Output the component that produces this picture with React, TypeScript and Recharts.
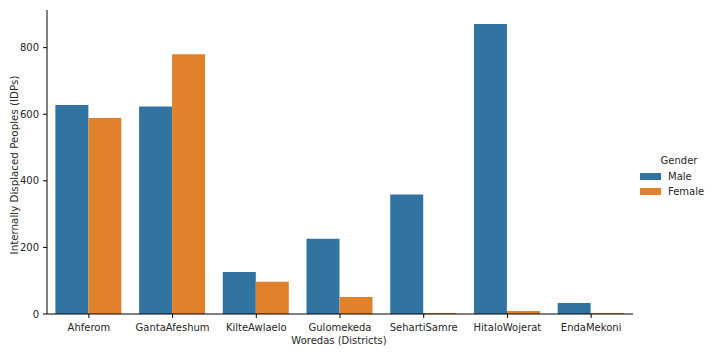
import React from 'react';
import { BarChart, Bar, XAxis, YAxis, Legend } from 'recharts';

const districts = ['Ahferom', 'GantaAfeshum', 'KilteAwlaelo', 'Gulomekeda', 'SehartiSamre', 'HitaloWojerat', 'EndaMekoni'];
const maleValues = [628, 623, 126, 226, 359, 871, 33];
const femaleValues = [589, 780, 97, 51, 3, 9, 3];
const yTicks = [0, 200, 400, 600, 800];

const data = districts.map((d, i) => ({ name: d, Male: maleValues[i], Female: femaleValues[i] }));

const FONT = '"DejaVu Sans", sans-serif';
const TEXT = '#262626';
const MALE = '#3274a1';
const FEMALE = '#e1812c';

const YLabel = (props: any) => {
  const vb = props.viewBox || {};
  const cx = 5.5;
  const cy = vb.y + vb.height / 2 + 3;
  return (
    <text x={cx} y={cy} transform={`rotate(-90 ${cx} ${cy})`} textAnchor="middle" dominantBaseline="central"
      fontFamily={FONT} fontSize={10.3} fill={TEXT}>
      Internally Displaced Peoples (IDPs)
    </text>
  );
};

const XLabel = (props: any) => {
  const vb = props.viewBox || {};
  return (
    <text x={vb.x + vb.width / 2 - 1} y={336} textAnchor="middle"
      fontFamily={FONT} fontSize={10} fill={TEXT}>
      Woredas (Districts)
    </text>
  );
};

const LegendContent = () => (
  <div style={{ fontFamily: FONT, fontSize: 10, color: TEXT, lineHeight: '14px' }}>
    <div style={{ textAlign: 'center', width: 70, marginLeft: 4, marginBottom: 1 }}>Gender</div>
    {[['Male', MALE], ['Female', FEMALE]].map(([n, c]) => (
      <div key={n} style={{ display: 'flex', alignItems: 'center', height: 15 }}>
        <span style={{ display: 'inline-block', width: 21, height: 7, background: c, marginRight: 7 }} />
        <span>{n}</span>
      </div>
    ))}
  </div>
);

export default function App() {
  return (
    <BarChart width={697} height={344} data={data} margin={{ top: 2, right: 72, left: 0, bottom: 8 }}
      barCategoryGap="10%" barGap={0}>
      <XAxis dataKey="name" height={30} axisLine={{ stroke: '#000' }} tickLine={{ stroke: '#000' }} tickSize={4}
        tickMargin={6} tick={{ fontFamily: FONT, fontSize: 10, fill: TEXT }} interval={0} label={<XLabel />} />
      <YAxis width={39} domain={[0, 913]} ticks={yTicks} axisLine={{ stroke: '#000' }} tickLine={{ stroke: '#000' }}
        tickSize={4} tickMargin={4} tick={{ fontFamily: FONT, fontSize: 10, fill: TEXT }} allowDataOverflow label={<YLabel />} />
      <Legend layout="vertical" align="center" verticalAlign="middle" content={<LegendContent />}
        wrapperStyle={{ position: 'absolute', left: 632, top: 146, width: 80 }} />
      <Bar dataKey="Male" fill={MALE} isAnimationActive={false} />
      <Bar dataKey="Female" fill={FEMALE} isAnimationActive={false} />
    </BarChart>
  );
}
